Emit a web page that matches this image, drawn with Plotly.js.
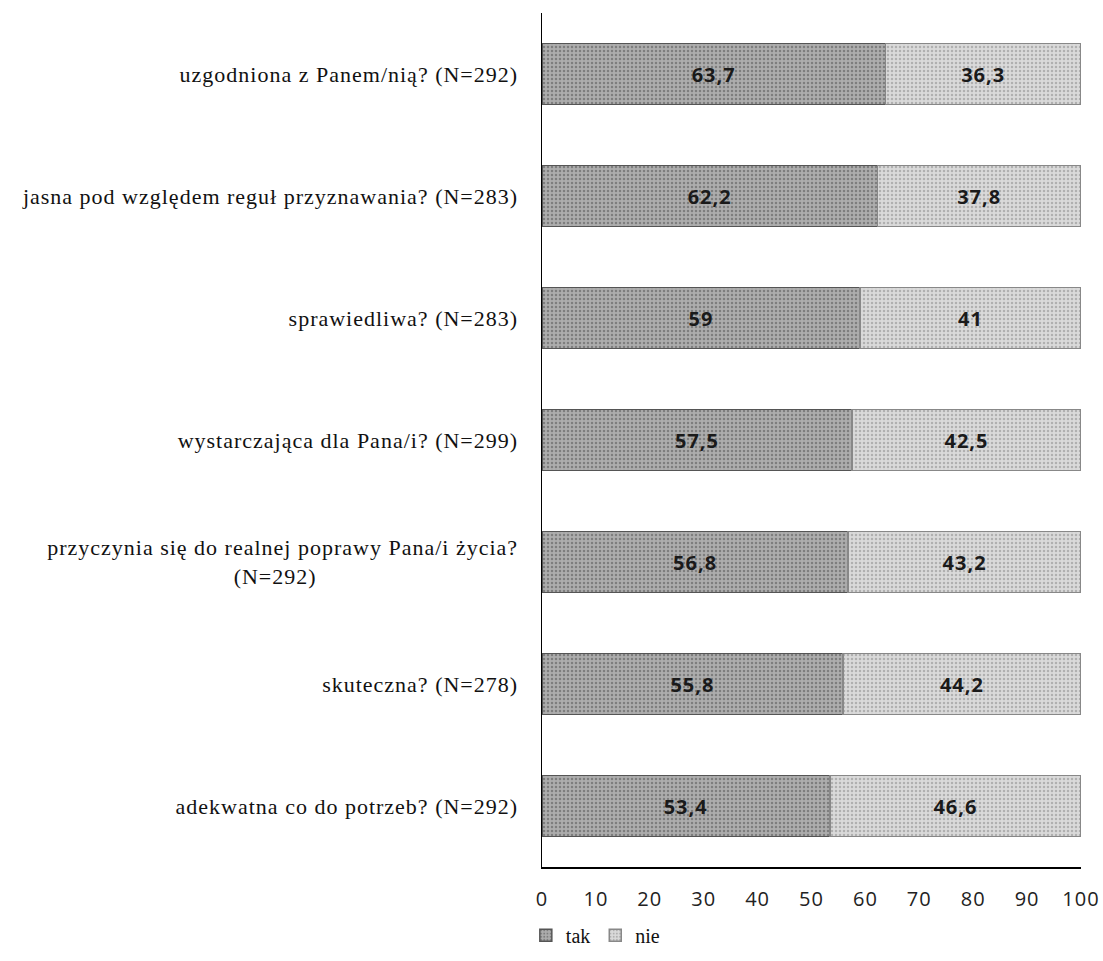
<!DOCTYPE html>
<html><head><meta charset="utf-8">
<script src="https://cdn.plot.ly/plotly-3.0.1.min.js"></script>
<style>body{margin:0;background:#fff}#c{width:1103px;height:961px}
#c .ytick text{letter-spacing:1px}
#c .xtick text{letter-spacing:1px}
#c .bartext text, #c text.bartext{letter-spacing:1px}
</style>
</head><body><div id="c"></div>
<script>
const categories = [
  "uzgodniona z Panem/nią? (N=292)",
  "jasna pod względem reguł przyznawania? (N=283)",
  "sprawiedliwa? (N=283)",
  "wystarczająca dla Pana/i? (N=299)",
  "przyczynia się do realnej poprawy Pana/i życia?<br>(N=292)" + "\u00A0".repeat(31),
  "skuteczna? (N=278)",
  "adekwatna co do potrzeb? (N=292)"
];
const tak = [63.7, 62.2, 59, 57.5, 56.8, 55.8, 53.4];
const nie = [36.3, 37.8, 41, 42.5, 43.2, 44.2, 46.6];
const xTicks = [0,10,20,30,40,50,60,70,80,90,100];

const idx = categories.map((_, i) => i);
const fmt = v => String(v).replace('.', ',');
const common = {
  type: 'bar', orientation: 'h', y: idx, width: 0.5,
  textposition: 'inside', insidetextanchor: 'middle',
  textfont: {family: 'Open Sans, Liberation Sans, sans-serif', size: 20, color: '#1a1a1a', weight: 'bold'},
  hoverinfo: 'skip'
};
const traces = [
  Object.assign({}, common, {name: 'tak', x: tak, text: tak.map(fmt),
    marker: {color: '#a2a2a2', line: {color: '#555', width: 1.5},
      pattern: {shape: '.', fgcolor: '#7e7e7e', bgcolor: '#adadad', size: 4, solidity: 0.3}}}),
  Object.assign({}, common, {name: 'nie', x: nie, text: nie.map(fmt),
    marker: {color: '#d2d2d2', line: {color: '#888', width: 1.5},
      pattern: {shape: '.', fgcolor: '#b0b0b0', bgcolor: '#dadada', size: 4, solidity: 0.3}}})
];
const layout = {
  width: 1103, height: 961, barmode: 'stack',
  margin: {l: 542, r: 22, t: 13, b: 94, autoexpand: false},
  paper_bgcolor: '#fff', plot_bgcolor: '#fff',
  showlegend: true,
  legend: {orientation: 'h', x: -0.03, xanchor: 'left', y: -0.057, yanchor: 'top',
    font: {family: 'Liberation Serif, serif', size: 20, color: '#111'},
    itemwidth: 30, tracegroupgap: 0, traceorder: 'normal'},
  xaxis: {range: [0, 100], tickvals: xTicks, ticktext: xTicks.map(String),
    showgrid: false, zeroline: false, showline: true, linecolor: '#000', linewidth: 1.5,
    ticks: '', ticklabelstandoff: 13, automargin: false,
    tickfont: {family: 'Open Sans, Liberation Sans, sans-serif', size: 20, color: '#222'}},
  yaxis: {range: [6.5, -0.5], tickvals: idx, ticktext: categories,
    showgrid: false, zeroline: false, showline: true, linecolor: '#000', linewidth: 1.5,
    ticks: '', ticklabelstandoff: 18, automargin: false,
    tickfont: {family: 'Liberation Serif, Times New Roman, serif', size: 22, color: '#111'}}
};
Plotly.newPlot('c', traces, layout, {displayModeBar: false, staticPlot: true});
</script></body></html>
